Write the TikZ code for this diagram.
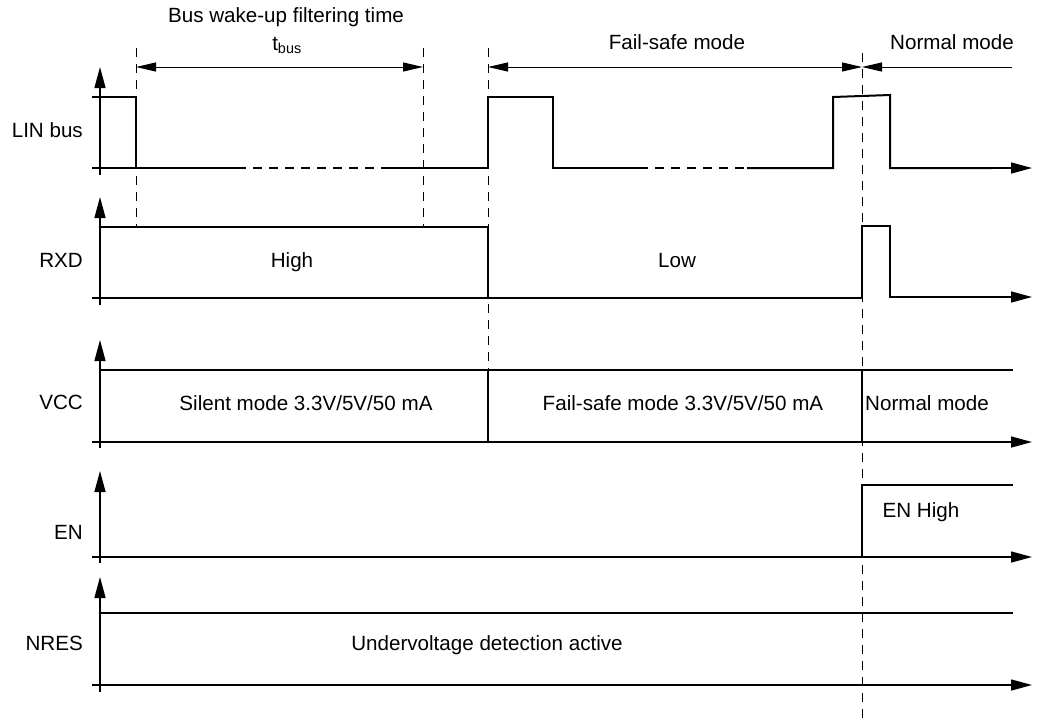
\documentclass[tikz,border=0pt]{standalone}
\usepackage{fontspec}
\setmainfont{Liberation Sans}
\usetikzlibrary{arrows.meta}
\begin{document}
\begin{tikzpicture}[x=1pt,y=-1pt,
  sig/.style={line width=2pt, line join=miter, line cap=butt},
  sigdash/.style={line width=1.4pt, dash pattern=on 9pt off 7pt},
  ax/.style={line width=1.4pt},
  axarrow/.style={line width=1.4pt,-{Triangle[length=21pt,width=11pt]}},
  dimarrow/.style={line width=1pt,{Triangle[length=20pt,width=9pt]}-{Triangle[length=20pt,width=9pt]}},
  onearrow/.style={line width=1pt,-{Triangle[length=20pt,width=9pt]}},
  guide/.style={line width=1pt,dash pattern=on 9pt off 7pt},
  lbl/.style={font=\fontsize{20.6}{24}\selectfont, inner sep=0pt, anchor=mid, yshift=-1.5pt},
  rlbl/.style={lbl, anchor=mid east},
]
\useasboundingbox (0,0) rectangle (1039,721);

% ---------- guide coordinates ----------
\coordinate (g1t) at (136,48);  \coordinate (g1b) at (136,227);
\coordinate (g2t) at (423,48);  \coordinate (g2b) at (423,227);
\coordinate (g3t) at (488,48);  \coordinate (g3b) at (488,370);
\coordinate (g4t) at (862,53);  \coordinate (g4b) at (862,721);

\draw[guide] (g1t) -- (g1b);
\draw[guide] (g2t) -- (g2b);
\draw[guide] (g3t) -- (g3b);
\draw[guide] (g4t) -- (g4b);

% ---------- dimension arrows ----------
\coordinate (d1) at (136,67); \coordinate (d2) at (423,67);
\coordinate (d3) at (488,67); \coordinate (d4) at (862,67);
\coordinate (d5) at (1012,67);
\draw[dimarrow] (d1) -- (d2);
\draw[dimarrow] (d3) -- (d4);
\draw[onearrow] (d5) -- (d4);

\node[lbl] (tbwf) at (286,18) {Bus wake-up filtering time};
\node[lbl] (tbus) at (287,46) {t\textsubscript{bus}};
\node[lbl] (tfs) at (677,45) {Fail-safe mode};
\node[lbl] (tnm) at (952,45) {Normal mode};

% ---------- LIN bus ----------
\node[rlbl] (llin) at (83,133) {LIN bus};
\draw[axarrow] (100,175) -- (100,67);
\draw[ax] (92,168) -- (136,168);
\draw[sig] (92,97) -- (136,97) -- (136,168) -- (237,168);
\draw[sigdash] (237,168) -- (387,168);
\draw[sig] (387,168) -- (488,168) -- (488,97) -- (553,97) -- (553,168) -- (639,168);
\draw[sigdash] (639,168) -- (747,168);
\draw[sig] (747,168) -- (833,168) -- (833,97) -- (890,95) -- (890,168) -- (992,168);
\draw[axarrow] (992,168) -- (1032,168);

% ---------- RXD ----------
\node[rlbl] (lrxd) at (83,263) {RXD};
\draw[axarrow] (100,305) -- (100,197);
\draw[sig] (100,227) -- (488,227) -- (488,298);
\draw[sig] (92,298) -- (862,298) -- (862,226) -- (890,226) -- (890,297) -- (992,297);
\draw[axarrow] (992,297) -- (1032,297);
\node[lbl] (thigh) at (292,263) {High};
\node[lbl] (tlow) at (677,263) {Low};

% ---------- VCC ----------
\node[rlbl] (lvcc) at (83,405) {VCC};
\draw[axarrow] (100,448) -- (100,340);
\draw[sig] (100,370) -- (1013,370);
\draw[sig] (488,370) -- (488,442);
\draw[sig] (862,370) -- (862,442);
\draw[sig] (92,442) -- (992,442);
\draw[axarrow] (992,442) -- (1032,442);
\node[lbl] (tsil) at (306,406) {Silent mode 3.3V/5V/50 mA};
\node[lbl] (tfsm) at (683,406) {Fail-safe mode 3.3V/5V/50 mA};
\node[lbl] (tnm2) at (927,406) {Normal mode};

% ---------- EN ----------
\node[rlbl] (len) at (83,535) {EN};
\draw[axarrow] (100,563) -- (100,471);
\draw[sig] (92,557) -- (862,557);
\draw[axarrow] (862,557) -- (1032,557);
\draw[sig] (862,557) -- (862,485) -- (1013,485);
\node[lbl] (tenh) at (921,513) {EN High};

% ---------- NRES ----------
\node[rlbl] (lnres) at (83,646) {NRES};
\draw[axarrow] (100,692) -- (100,577);
\draw[sig] (100,613) -- (1013,613);
\draw[sig] (92,685) -- (992,685);
\draw[axarrow] (992,685) -- (1032,685);
\node[lbl] (tuv) at (487,646) {Undervoltage detection active};
\end{tikzpicture}
\end{document}
